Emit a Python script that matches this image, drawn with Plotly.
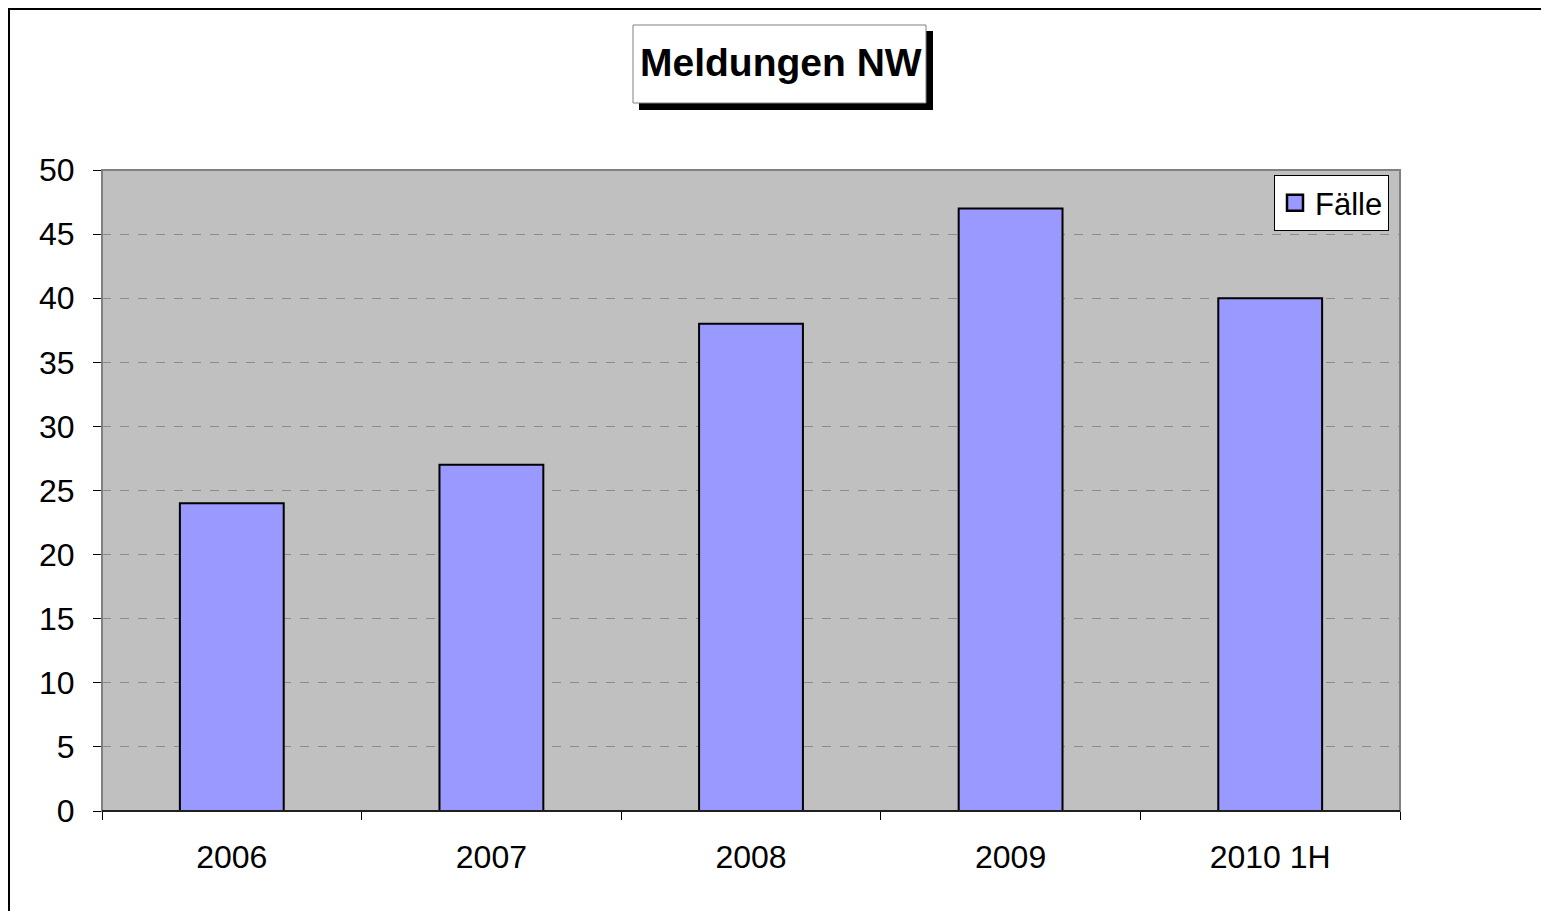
import plotly.graph_objects as go

categories = ["2006", "2007", "2008", "2009", "2010 1H"]
values = [24, 27, 38, 47, 40]
series_name = "Fälle"
title_text = "Meldungen NW"

W, H = 1549, 911
OFF = 8  # page body margin offset
L, R, T, B = 102 - OFF, 1400 - OFF, 170 - OFF, 811 - OFF

def px(x):
    return (x - OFF - L) / (R - L)

def py(y):
    return (B - (y - OFF)) / (B - T)

FONT = "Liberation Sans, Arial, sans-serif"
BAR_COLOR = "#9999FF"

fig = go.Figure()
fig.add_trace(go.Bar(
    x=categories, y=values, name=series_name,
    marker=dict(color=BAR_COLOR, line=dict(color="black", width=2)),
    width=0.4, showlegend=False,
))
fig.add_trace(go.Scatter(
    x=[None], y=[None], mode="markers", name=series_name,
    marker=dict(symbol="square", size=18, color=BAR_COLOR, line=dict(color="black", width=2.5)),
    showlegend=True,
))

shapes = [
    dict(type="line", xref="paper", yref="paper", x0=px(8), x1=px(W + 20), y0=py(OFF + 1), y1=py(OFF + 1),
         line=dict(color="black", width=2)),
    dict(type="line", xref="paper", yref="paper", x0=px(9), x1=px(9), y0=py(OFF), y1=py(H + 20),
         line=dict(color="black", width=2)),
    dict(type="rect", xref="paper", yref="paper", x0=0, x1=1, y0=0, y1=1,
         line=dict(color="#808080", width=2), layer="above"),
    dict(type="rect", xref="paper", yref="paper", x0=px(639), x1=px(933), y0=py(31), y1=py(110),
         fillcolor="black", line=dict(width=0)),
    dict(type="rect", xref="paper", yref="paper", x0=px(633), x1=px(926), y0=py(25), y1=py(103),
         fillcolor="white", line=dict(color="#808080", width=1)),
    dict(type="line", xref="paper", yref="paper", x0=0, x1=1, y0=0, y1=0,
         line=dict(color="black", width=1.5), layer="above"),
]

fig.update_layout(
    width=W, height=H,
    margin=dict(l=L, r=W - R, t=T, b=H - B),
    paper_bgcolor="white",
    plot_bgcolor="#C0C0C0",
    font=dict(family=FONT, size=32, color="black"),
    shapes=shapes,
    annotations=[dict(text="<b>" + title_text + "</b>", xref="paper", yref="paper",
                      x=px(781), y=py(63), xanchor="center", yanchor="middle",
                      showarrow=False, font=dict(size=39, family=FONT, color="black"))],
    legend=dict(x=px(1389), y=py(175), xanchor="right", yanchor="top",
                bgcolor="white", bordercolor="black", borderwidth=1,
                font=dict(size=31, family=FONT), itemsizing="trace", itemwidth=30),
    bargap=0.6,
)

fig.update_xaxes(
    type="category", tickson="boundaries", ticks="outside", ticklen=8, tickcolor="black",
    tickwidth=1, showgrid=False, showline=False, ticklabelstandoff=24,
    tickfont=dict(size=32, family=FONT),
)
fig.update_yaxes(
    range=[0, 50], dtick=5, tick0=0, ticks="outside", ticklen=8, tickcolor="black",
    tickwidth=1, showgrid=True, gridcolor="#8c8c8c", griddash="dash", gridwidth=1,
    zeroline=False, showline=False, ticklabelstandoff=12,
    tickfont=dict(size=32, family=FONT),
)

fig.write_html("out.html")
